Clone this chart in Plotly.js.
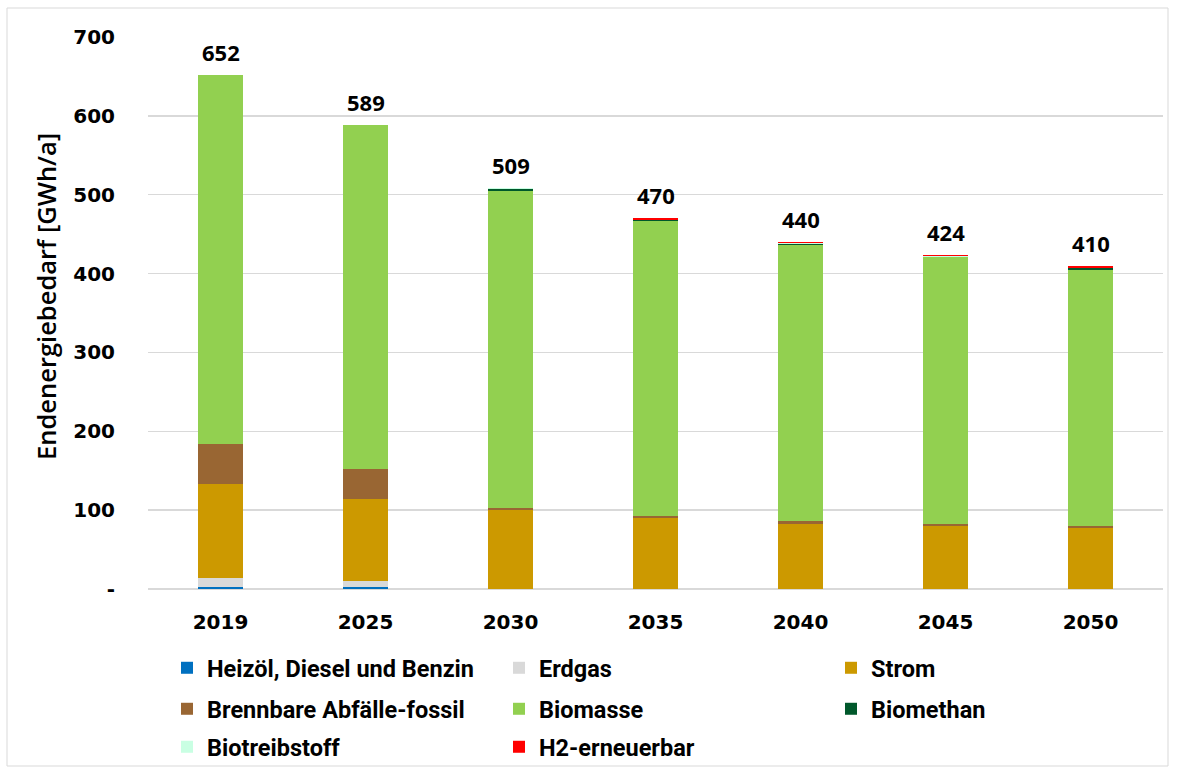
<!DOCTYPE html>
<html>
<head>
<meta charset="utf-8">
<script src="https://cdn.plot.ly/plotly-3.0.1.min.js"></script>
<style>html,body{margin:0;padding:0;background:#fff;}#chart{width:1182px;height:771px;}</style>
</head>
<body>
<div id="chart"></div>
<script>
const years = ["2019", "2025", "2030", "2035", "2040", "2045", "2050"];
const heizoel = [2, 2, 0, 0, 0, 0, 0];
const erdgas = [12, 8, 0, 0, 0, 0, 0];
const strom = [119, 104, 100, 90, 83, 80, 77];
const abfaelle = [51, 38, 3, 3, 3, 3, 3];
const biomasse = [468, 437, 402, 373.5, 350.5, 337.5, 325];
const biomethan = [0, 0, 2, 1, 1.5, 1, 1.5];
const biotreibstoff = [0, 0, 1, 0.5, 1, 0.5, 1];
const h2 = [0, 0, 1, 2, 1, 2, 2.5];
const yTickVals = [0, 100, 200, 300, 400, 500, 600, 700];
const yTickText = ["-", "100", "200", "300", "400", "500", "600", "700"];
const yTitle = "Endenergiebedarf [GWh/a]";

const series = [
  {name: "Heizöl, Diesel und Benzin", y: heizoel, color: "#0070C0", legend: "legend"},
  {name: "Erdgas", y: erdgas, color: "#D9D9D9", legend: "legend"},
  {name: "Strom", y: strom, color: "#CC9900", legend: "legend"},
  {name: "Brennbare Abfälle-fossil", y: abfaelle, color: "#996633", legend: "legend2"},
  {name: "Biomasse", y: biomasse, color: "#92D050", legend: "legend2"},
  {name: "Biomethan", y: biomethan, color: "#00582B", legend: "legend2"},
  {name: "Biotreibstoff", y: biotreibstoff, color: "#C9FFE3", legend: "legend3"},
  {name: "H2-erneuerbar", y: h2, color: "#FF0000", legend: "legend3"}
];

const traces = series.map(s => ({
  type: "bar", x: years, y: s.y, name: s.name, legend: s.legend,
  marker: {color: s.color, line: {width: 0}},
  hoverinfo: "name+y"
}));

const L = 148, PW = 1015, B = 589, PH = 552;
const px2x = p => (p - L) / PW;
const px2y = p => (B - p) / PH;

const totals = years.map((_, i) => series.reduce((a, s) => a + s.y[i], 0));
const annotations = years.map((yr, i) => ({
  x: i, y: totals[i], xref: "x", yref: "y",
  text: String(Math.round(totals[i])), showarrow: false,
  yanchor: "bottom", yshift: 6,
  font: {family: "Open Sans", size: 22, color: "#000", weight: 700}
}));
annotations.push({
  x: px2x(46), y: px2y(297), xref: "paper", yref: "paper",
  text: yTitle, textangle: -90, showarrow: false,
  xanchor: "center", yanchor: "middle",
  font: {family: "Open Sans", size: 25.5, color: "#000", weight: 600}
});

const legendFont = {family: "Roboto", size: 23.5, color: "#000", weight: 700};
function mkLegend(yPix) {
  return {
    orientation: "h", x: px2x(167), xanchor: "left", y: px2y(yPix), yanchor: "middle",
    entrywidth: 287, entrywidthmode: "pixels", font: legendFont,
    bgcolor: "rgba(0,0,0,0)", itemwidth: 30, traceorder: "normal",
    itemclick: false, itemdoubleclick: false
  };
}

const layout = {
  width: 1182, height: 771,
  margin: {l: L, r: 1182 - L - PW, t: 37, b: 771 - B, autoexpand: false},
  paper_bgcolor: "#fff", plot_bgcolor: "#fff",
  barmode: "stack", bargap: 0.685,
  showlegend: true,
  legend: mkLegend(668),
  legend2: mkLegend(709),
  legend3: mkLegend(747),
  xaxis: {
    type: "category", range: [-0.5, 6.5], autorange: false,
    showgrid: false, showline: false, zeroline: false,
    ticks: "", ticklabelstandoff: 19,
    tickfont: {family: "DejaVu Sans", size: 20, color: "#000", weight: 700}
  },
  yaxis: {
    range: [0, 700], autorange: false, tickvals: yTickVals, ticktext: yTickText,
    showgrid: true, gridcolor: "#D9D9D9", gridwidth: 1.5,
    zeroline: true, zerolinecolor: "#D9D9D9", zerolinewidth: 1.5,
    showline: false, ticks: "", ticklabelstandoff: 32,
    tickfont: {family: "DejaVu Sans", size: 20, color: "#000", weight: 700}
  },
  annotations: annotations,
  shapes: [{
    type: "rect", xref: "paper", yref: "paper",
    x0: px2x(7), x1: px2x(1168), y0: px2y(766), y1: px2y(8),
    line: {color: "#D9D9D9", width: 1}, fillcolor: "rgba(0,0,0,0)", layer: "below"
  }]
};

Plotly.newPlot("chart", traces, layout, {displayModeBar: false, staticPlot: true});
</script>
</body>
</html>
